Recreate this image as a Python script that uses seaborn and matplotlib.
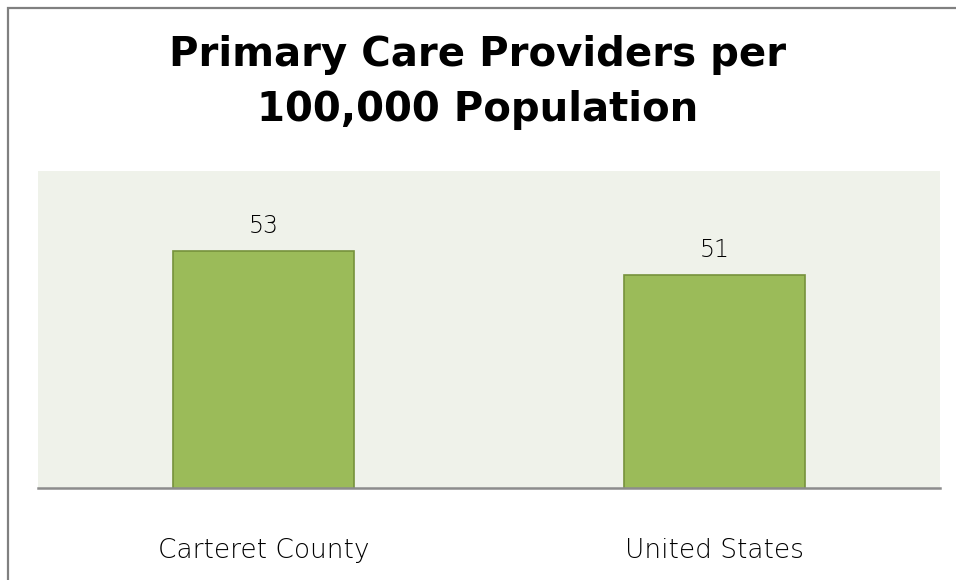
import pandas as pd
import seaborn as sns
import matplotlib.pyplot as plt
from matplotlib.patches import Rectangle

# data
regions = ["Carteret County", "United States"]
providers = [53, 51]
title_lines = ["Primary Care Providers per", "100,000 Population"]

df = pd.DataFrame({"Region": regions, "Providers": providers})

sns.set_style("white")
plt.rcParams['font.family'] = ['DejaVu Sans']

W, H = 956, 580
fig = plt.figure(figsize=(W / 100, H / 100), dpi=100)
ax = fig.add_axes([38 / W, 1 - 488 / H, 902 / W, 317 / H])

sns.barplot(data=df, x="Region", y="Providers", color="#9BBB59", width=0.4,
            edgecolor="#76923C", linewidth=1.2, saturation=1, ax=ax)

ax.set_facecolor("#EFF2EA")
ax.set_ylim(32.9, 59.8)
ax.set_xlim(-0.5, 1.5)

# value labels above bars
for c in ax.containers:
    ax.bar_label(c, labels=[str(v) for v in providers], padding=9.5,
                 fontsize=17, fontweight='light', color="black")

ax.set_xlabel("")
ax.set_ylabel("")
ax.set_yticks([])
ax.tick_params(axis='x', length=0, pad=36)
for lbl in ax.get_xticklabels():
    lbl.set_fontsize(19)
    lbl.set_fontweight('light')
    lbl.set_color("black")

for side in ["top", "left", "right"]:
    ax.spines[side].set_visible(False)
ax.spines["bottom"].set_color("#8C8C8C")
ax.spines["bottom"].set_linewidth(1.8)

# title, two lines placed on their baselines
for txt, base in zip(title_lines, [66, 121]):
    fig.text(0.5, 1 - base / H, txt, ha="center", va="baseline",
             fontsize=29, fontweight="bold", color="black")

# chart frame (only left and top edges visible in the crop)
fig.patches.append(Rectangle((8 / W, -0.1), 1.2, 1 - 8 / H + 0.1,
                             transform=fig.transFigure, fill=False,
                             edgecolor="#808080", linewidth=1.6, zorder=0))

fig.savefig("out.png", dpi=100)
